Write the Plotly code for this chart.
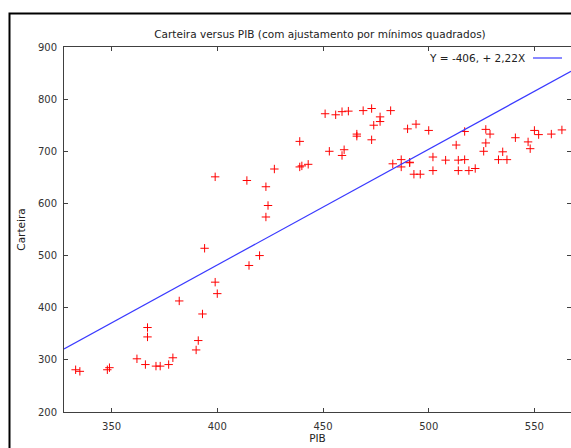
import plotly.graph_objects as go

# Data (PIB vs Carteira)
pib = [333, 335, 348, 349, 362, 366, 367, 367, 371, 373, 377, 379, 382, 390, 391,
       393, 394, 399, 400, 399, 415, 420, 414, 423, 424, 423, 427, 439, 439, 440,
       443, 451, 453, 456, 459, 462, 459, 460, 466, 466, 469, 473, 474, 473, 477,
       477, 482, 483, 487, 487, 490, 491, 491, 494, 493, 496, 500, 502, 502, 508,
       513, 514, 514, 517, 517, 519, 522, 526, 527, 527, 529, 533, 535, 537, 541,
       547, 548, 550, 552, 558, 563]
carteira = [281, 278, 281, 285, 302, 291, 362, 344, 288, 288, 291, 304, 413, 319, 337,
            388, 514, 449, 427, 651, 481, 500, 644, 632, 596, 574, 666, 719, 670, 672,
            675, 772, 700, 770, 776, 777, 692, 703, 729, 733, 778, 782, 750, 722, 757,
            766, 778, 676, 684, 670, 743, 679, 678, 752, 656, 656, 740, 689, 663, 683,
            712, 683, 663, 684, 738, 663, 667, 700, 716, 742, 733, 684, 699, 684, 726,
            718, 705, 740, 732, 733, 741]

# Least squares fit coefficients shown in the legend
intercept = -406.0
slope = 2.22
x_range = [327.5, 567.3]
y_range = [200, 900]
fit_label = "Y = -406, + 2,22X"

fit_x = x_range
fit_y = [intercept + slope * v for v in fit_x]

FONT = "DejaVu Sans, sans-serif"

W, H = 571, 448
L, R, T, B = 64, 0, 47, 36
PW = W - L - R
PH = H - T - B


def px(xp):  # page x -> paper x
    return (xp - L) / PW


def py(yp):  # page y -> paper y
    return (H - B - yp) / PH


fig = go.Figure()
fig.add_trace(go.Scatter(
    x=pib, y=carteira, mode="markers",
    marker=dict(symbol="cross-thin", size=6, color="#ff0000",
                line=dict(color="#ff0000", width=1)),
    showlegend=False, hoverinfo="x+y"))
fig.add_trace(go.Scatter(
    x=fit_x, y=fit_y, mode="lines",
    line=dict(color="#3a3aff", width=1.2),
    showlegend=False))

axis_common = dict(
    showline=True, linecolor="#404040", linewidth=1, mirror="ticks",
    ticks="inside", ticklen=4, tickcolor="#404040", tickwidth=1,
    showgrid=False, zeroline=False,
    tickfont=dict(family=FONT, size=10, color="#333333"),
)

fig.update_layout(
    width=W, height=H,
    margin=dict(l=L, r=R, t=T, b=B),
    paper_bgcolor="white", plot_bgcolor="white",
    font=dict(family=FONT, size=10, color="#222222"),
    title=dict(text="Carteira versus PIB (com ajustamento por mínimos quadrados)",
               x=px(320), xref="paper", xanchor="center",
               y=1 - 34.5 / H, yanchor="middle",
               font=dict(family=FONT, size=10.5, color="#222222")),
    xaxis=dict(range=x_range, tick0=350, dtick=50, ticklabelstandoff=5,
               title=dict(text="PIB", standoff=3,
                          font=dict(family=FONT, size=10.5, color="#222222")),
               **axis_common),
    yaxis=dict(range=y_range, tick0=200, dtick=100, ticklabelstandoff=4,
               title=dict(text="Carteira", standoff=10,
                          font=dict(family=FONT, size=10.5, color="#222222")),
               **axis_common),
    showlegend=False,
)

# Legend in gnuplot style: text then line sample
fig.add_annotation(
    text=fit_label, xref="paper", yref="paper",
    x=px(527), y=py(58), xanchor="right", yanchor="middle",
    showarrow=False, font=dict(family=FONT, size=10.5, color="#222222"))
fig.add_shape(type="line", xref="paper", yref="paper",
              x0=px(533), x1=px(562), y0=py(58), y1=py(58),
              line=dict(color="#3a3aff", width=1.2))

# Outer frame (extends past the page on the right and bottom)
fig.add_shape(type="rect", xref="paper", yref="paper",
              x0=px(9.5), x1=1.2, y0=-0.3, y1=py(13.5),
              line=dict(color="black", width=2), fillcolor="rgba(0,0,0,0)",
              layer="above")

fig.write_html(
    "out.html",
    config={"displayModeBar": False},
    post_script="document.body.style.margin='0';"
                "document.body.style.overflow='hidden';",
)
